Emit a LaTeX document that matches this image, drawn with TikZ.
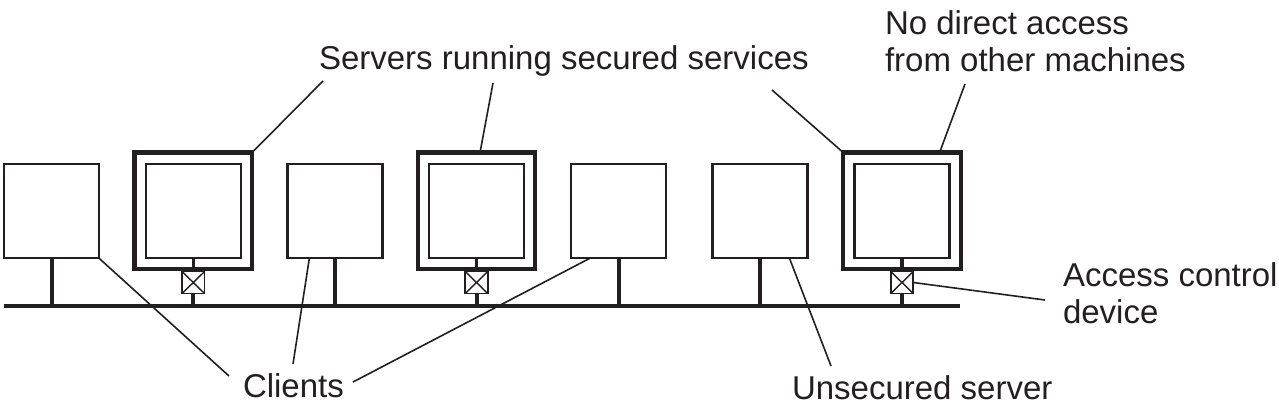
\documentclass[tikz,border=0pt]{standalone}
\usepackage{fontspec}
\setmainfont{Liberation Sans}
\usetikzlibrary{calc}
\definecolor{ink}{HTML}{231F20}
\begin{document}
\begin{tikzpicture}[x=1pt,y=-1pt,
  every node/.style={inner sep=0pt,outer sep=0pt},
  machine/.style={draw=ink,line width=2.2pt,minimum width=95pt,minimum height=94pt},
  shell/.style={draw=ink,line width=4.4pt,minimum width=117.5pt,minimum height=116.5pt},
  guard/.style={draw=ink,line width=1.8pt,minimum width=22.5pt,minimum height=22pt},
  stem/.style={draw=ink,line width=4pt},
  thinstem/.style={draw=ink,line width=3.4pt},
  busline/.style={draw=ink,line width=4.2pt},
  leader/.style={draw=ink,line width=1.6pt},
  lbl/.style={text=ink,font=\fontsize{33}{36.7}\selectfont,anchor=base west}]
\useasboundingbox (0,0) rectangle (1279,408);
% bus
\coordinate (busL) at (4,306);
\coordinate (busR) at (960,306);
\draw[busline] (busL) -- (busR);
% clients
\node[machine] (c1) at (51.5,211.2) {};
\node[machine] (c2) at (335,211.2) {};
\node[machine] (c3) at (618.5,211.2) {};
\node[machine] (c4) at (760,211.2) {};
\foreach \n in {c1,c2,c3,c4}{\draw[stem] (\n.south) -- (\n.south |- busL);}
% servers
\foreach \n/\x in {s1/193.3,s2/476.5,s3/902}{
  \node[shell] (\n out) at (\x,210.8) {};
  \node[machine] (\n in) at (\x,211.2) {};
  \node[guard,anchor=north] (\n acc) at (\x,271.5) {};
  \draw[thinstem] (\n in.south) -- (\n out.south);
  \draw[stem] (\n acc.south) -- (\n acc.south |- busL);
  \draw[draw=ink,line width=1.4pt] (\n acc.north west) -- (\n acc.south east)
       (\n acc.north east) -- (\n acc.south west);
}
% labels
\node[lbl] (lserv) at (319,69.5) {Servers running secured services};
\node[lbl,align=left] (lnod) at (885,71) {No direct access\\from other machines};
\node[lbl,align=left] (lacc) at (1063,323.3) {Access control\\device};
\node[lbl] (lcli) at (243,397) {Clients};
\node[lbl] (luns) at (792,399) {Unsecured server};
% leader free ends
\coordinate (ps1) at (323,81);
\coordinate (ps2) at (493,83);
\coordinate (ps3) at (772,90);
\coordinate (pnd) at (965,84);
\coordinate (pac) at (1045,300);
\coordinate (pc1) at (229,376);
\coordinate (pc2) at (293,364);
\coordinate (pc3) at (353,382);
\coordinate (pun) at (831,366);
% leaders
\draw[leader] (ps1) -- (s1out.north east);
\draw[leader] (ps2) -- ($(s2out.north west)!0.53!(s2out.north east)$);
\draw[leader] (ps3) -- (s3out.north west);
\draw[leader] (pnd) -- ($(s3out.north west)!0.82!(s3out.north east)$);
\draw[leader] (pac) -- (s3acc.east);
\draw[leader] (pc1) -- (c1.south east);
\draw[leader] (pc2) -- ($(c2.south west)!0.23!(c2.south east)$);
\draw[leader] (pc3) -- ($(c3.south west)!0.2!(c3.south east)$);
\draw[leader] (pun) -- ($(c4.south west)!0.81!(c4.south east)$);
\end{tikzpicture}
\end{document}
